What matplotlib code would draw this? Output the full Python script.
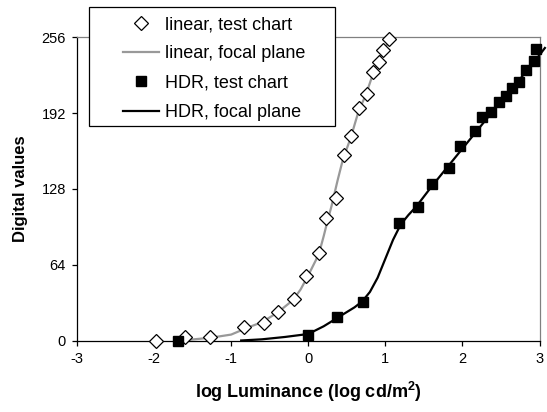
import matplotlib
matplotlib.use('Agg')
import matplotlib.pyplot as plt
from matplotlib.patches import Rectangle

plt.rcParams['font.family'] = ['Liberation Sans', 'DejaVu Sans']
plt.rcParams['axes.unicode_minus'] = False

# linear camera, test chart measurements
lin_x = [-1.97, -1.60, -1.28, -0.83, -0.58, -0.39, -0.19, -0.03, 0.14, 0.23,
         0.36, 0.47, 0.56, 0.66, 0.76, 0.84, 0.92, 0.97, 1.05]
lin_y = [0, 2.8, 2.8, 11.1, 15.0, 24.3, 34.7, 54.4, 73.6, 103.6,
         120.0, 156.5, 172.5, 195.9, 207.9, 226.7, 235.2, 245.6, 254.9]

# linear camera, focal plane response
lin_fp_x = [-1.65, -1.4, -1.2, -1.0, -0.8, -0.6, -0.4, -0.2, -0.1, 0.0, 0.1,
            0.15, 0.2, 0.25, 0.3, 0.38, 0.45, 0.55, 0.65, 0.75, 0.85, 0.95,
            1.05, 1.1]
lin_fp_y = [0, 1.5, 3, 5, 10.5, 15.5, 23.5, 34, 43, 55, 68,
            76, 88, 101, 113, 135, 153, 171, 193, 208, 227, 242,
            253, 258]

# HDR camera, test chart measurements
hdr_x = [-1.69, 0.0, 0.37, 0.71, 1.18, 1.42, 1.61, 1.82, 1.97, 2.16,
         2.26, 2.37, 2.47, 2.56, 2.64, 2.73, 2.83, 2.93, 2.96]
hdr_y = [0, 4.6, 20.0, 32.2, 98.8, 112.9, 132.0, 145.8, 164.0, 177.0,
         188.3, 193.0, 201.4, 206.2, 213.6, 218.3, 228.2, 236.0, 246.5]

# HDR camera, focal plane response
hdr_fp_x = [-0.87, -0.6, -0.3, 0.0, 0.2, 0.4, 0.6, 0.7, 0.8, 0.9, 1.0,
            1.1, 1.2, 1.3, 1.4, 1.6, 1.8, 2.0, 2.2, 2.4, 2.6, 2.8, 3.0, 3.07]
hdr_fp_y = [0, 1, 3, 5.5, 12, 20, 28, 33, 41, 53, 69,
            85, 98, 106, 113, 130, 146, 162, 178, 194, 209, 225, 241, 247]

xticks = [-3, -2, -1, 0, 1, 2, 3]
yticks = [0, 64, 128, 192, 256]

fig = plt.figure(figsize=(5.47, 4.12), dpi=100)
ax = fig.add_axes([77/547, 1 - 340.5/412, (539.5 - 77)/547, (340.5 - 37.3)/412])

ax.plot(lin_fp_x, lin_fp_y, color='#999999', lw=1.6, zorder=2,
        label='linear, focal plane')
ax.plot(hdr_fp_x, hdr_fp_y, color='black', lw=1.6, zorder=2, clip_on=False,
        label='HDR, focal plane')
ax.plot(lin_x, lin_y, 'D', ms=7.3, mfc='white', mec='black', mew=0.9,
        zorder=3, clip_on=False, label='linear, test chart')
ax.plot(hdr_x, hdr_y, 's', ms=7, mfc='black', mec='black',
        zorder=3, clip_on=False, label='HDR, test chart')

ax.set_xlim(-3, 3)
ax.set_ylim(0, 256)
ax.set_xticks(xticks)
ax.set_yticks(yticks)
ax.tick_params(direction='out', length=3.5, width=0.9, labelsize=10.5, pad=4.5)
for s in ['left', 'bottom']:
    ax.spines[s].set_color('black')
    ax.spines[s].set_linewidth(0.9)
for s in ['top', 'right']:
    ax.spines[s].set_color('#808080')
    ax.spines[s].set_linewidth(0.9)

ax.set_xlabel('log Luminance (log cd/m$^\\mathregular{2}$)', fontsize=13,
              fontweight='bold', labelpad=10)
ax.set_ylabel('Digital values', fontsize=12, fontweight='bold', labelpad=10)

# legend box sits over the top of the plot area
fig.patches.append(Rectangle((89/547, 1 - 126/412), (335 - 89)/547, (126 - 7)/412,
                             transform=fig.transFigure, facecolor='white',
                             edgecolor='black', lw=0.9, zorder=4))
handles, labels = ax.get_legend_handles_labels()
order = [2, 0, 3, 1]
leg = fig.legend([handles[i] for i in order], [labels[i] for i in order],
                 loc='upper left', bbox_to_anchor=(123/547, 1 - 16/412),
                 frameon=False, fontsize=13, borderpad=0, borderaxespad=0,
                 handlelength=2.0, handletextpad=0.35, labelspacing=0.68)
leg.set_zorder(5)

fig.savefig('out.png', dpi=100)
